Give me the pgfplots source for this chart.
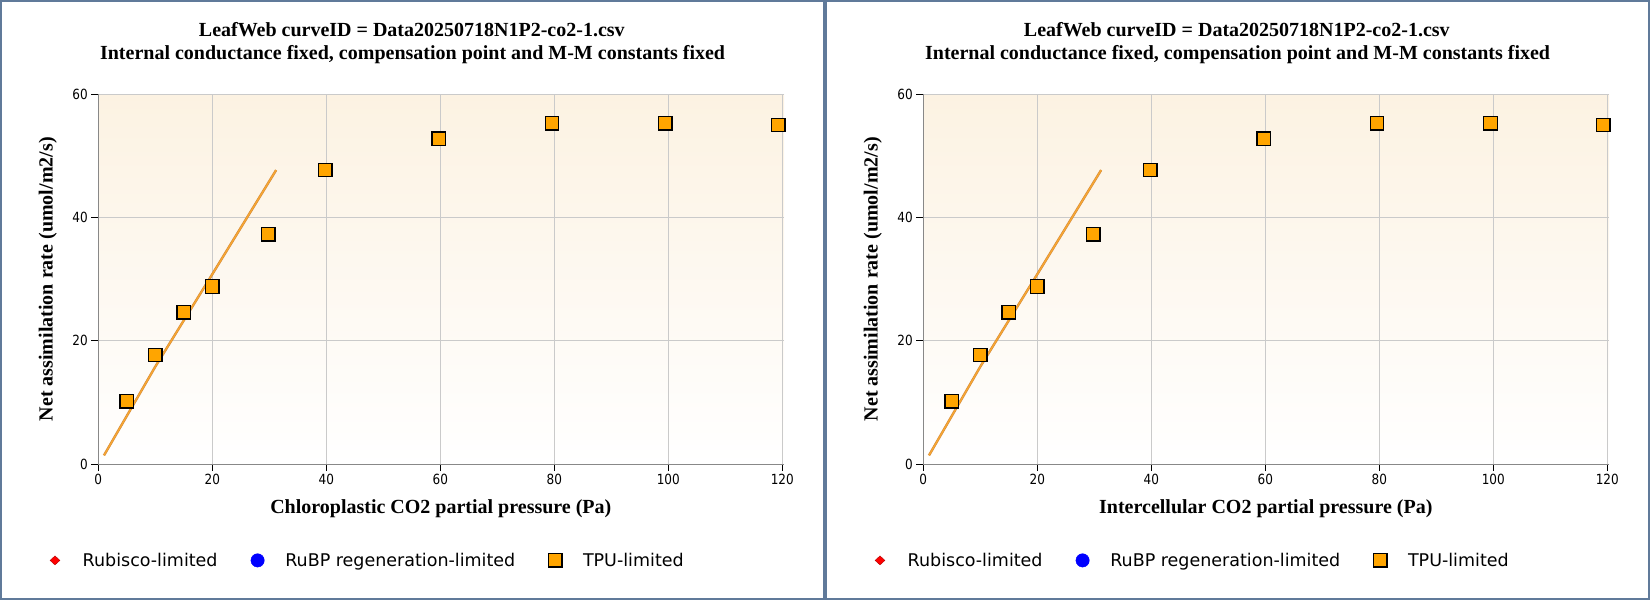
\documentclass[border=0pt]{standalone}
\usepackage{fontspec}
\setmainfont{Liberation Serif}
\newfontfamily\dejavu{DejaVu Sans}
\newfontfamily\dejavucond{DejaVu Sans}[FakeStretch=0.86]
\usepackage{pgfplots}
\usepackage{pgfplotstable}
\pgfplotsset{compat=1.18}
\definecolor{panelborder}{HTML}{607A9A}
\definecolor{cream}{HTML}{FCF2E2}
\definecolor{tpu}{HTML}{FFA500}
\definecolor{fitline}{HTML}{F7A632}
\definecolor{fitedge}{HTML}{D0883A}
\definecolor{axisgray}{HTML}{888888}
\definecolor{gridgray}{HTML}{CACACA}

\pgfplotstableread{
x y
5 10.2
10 17.7
15 24.6
20 28.8
29.8 37.3
39.8 47.7
59.7 52.8
79.6 55.3
99.5 55.3
119.3 55.0
}\tpudata

\pgfplotstableread{
x y
1 1.4
10 15.8
20 30.8
31.2 47.7
}\fitdata

\pgfplotsset{
 leafstyle/.style={
  scale only axis, width=685.7pt, height=369.7pt, anchor=south west,
  xmin=0, xmax=120.3, ymin=0, ymax=60,
  xtick={0,20,40,60,80,100,120}, ytick={0,20,40,60},
  axis x line*=bottom, axis y line*=left,
  axis line style={axisgray, line width=1pt, -},
  tick align=outside, major tick length=7pt,
  tick style={black, line width=1pt},
  grid=major, major grid style={gridgray, line width=0.8pt},
  axis background/.style={top color=cream, bottom color=white},
  tick label style={font=\dejavucond\fontsize{14}{16}\selectfont},
  /pgf/number format/assume math mode=true,
  clip=false,
  legend columns=3,
  legend image code/.code={\draw[##1] plot coordinates {(0pt,6.5pt)}; \path[draw=none,fill=none] (-7pt,-0.5pt) rectangle (7pt,13.5pt);},
  legend style={draw=none, fill=none, inner sep=0pt, outer sep=0pt,
    font=\dejavu\fontsize{17.5}{20}\selectfont,
    at={(-0.07336,-0.26238)}, anchor=west,
    cells={anchor=base west, inner sep=0pt},
    /tikz/every odd column/.style={column sep=18.7pt},
    /tikz/every even column/.style={column sep=31pt}},
 }
}

\begin{document}
\begin{tikzpicture}[x=1pt,y=1pt]
\useasboundingbox (0,0) rectangle (1650,600);
\foreach \dx/\xl in {0/Chloroplastic, 825/Intercellular}{
  \begin{scope}[xshift=\dx pt]
  \draw[panelborder, line width=2pt] (1,1) rectangle (824,599);
  \node[font=\bfseries\fontsize{20}{24}\selectfont, anchor=base] at (411.8,563.6) {LeafWeb curveID = Data20250718N1P2-co2-1.csv};
  \node[font=\bfseries\fontsize{20}{24}\selectfont, anchor=base] at (412.6,540.7) {Internal conductance fixed, compensation point and M-M constants fixed};
  \node[font=\bfseries\fontsize{20}{24}\selectfont, anchor=base] at (440.8,86) {\xl\ CO2 partial pressure (Pa)};
  \node[font=\bfseries\fontsize{20}{24}\selectfont, anchor=base, rotate=90] at (52.5,320.8) {Net assimilation rate (umol/m2/s)};
  \begin{axis}[leafstyle, at={(98.3pt,136pt)}]
    \addplot[fitedge, line width=2.4pt, forget plot] table[x=x,y=y] {\fitdata};
    \addplot[fitline, line width=1.4pt, forget plot] table[x=x,y=y] {\fitdata};
    \addlegendimage{only marks, mark=diamond*, mark size=4.5pt, color=red, mark options={xscale=1.45, fill=red, draw=red!70!black, line width=0.4pt}}
    \addlegendentry{Rubisco-limited}
    \addlegendimage{only marks, mark=*, mark size=6.7pt, color=blue, mark options={fill=blue, draw=blue, line width=0.4pt}}
    \addlegendentry{RuBP regeneration-limited}
    \addplot[only marks, mark=square*, mark size=6.7pt, mark options={fill=tpu, draw=black, line width=1.3pt}] table[x=x,y=y] {\tpudata};
    \addlegendentry{TPU-limited}
  \end{axis}
  \end{scope}
}
\end{tikzpicture}
\end{document}
